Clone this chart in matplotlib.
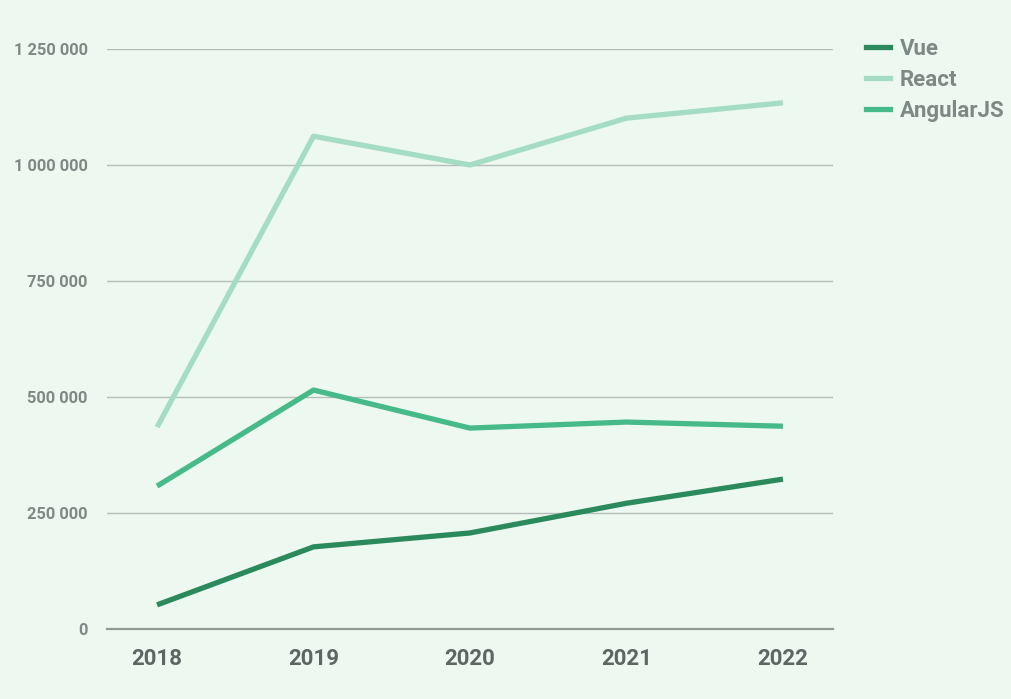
import matplotlib
matplotlib.use("Agg")
import matplotlib.pyplot as plt
from matplotlib.lines import Line2D

years = ["2018", "2019", "2020", "2021", "2022"]
vue = [52000, 177000, 207000, 271000, 323000]
react = [435000, 1062000, 1000000, 1101000, 1134000]
angular = [308000, 515000, 433000, 446000, 437000]
yticks = [0, 250000, 500000, 750000, 1000000, 1250000]
ytick_labels = ["0", "250 000", "500 000", "750 000", "1 000 000", "1 250 000"]

bg = "#edf8f1"
c_vue = "#2b8a5b"
c_react = "#a4dcc4"
c_ang = "#46ba88"

plt.rcParams['font.family'] = ['Roboto', 'DejaVu Sans']
fig = plt.figure(figsize=(10.11, 6.99), dpi=100, facecolor=bg)
ax = fig.add_axes([107/1011, 70/699, 726/1011, 580/699], facecolor=bg)

x = list(range(len(years)))
ax.plot(x, vue, color=c_vue, lw=3.8, solid_capstyle='butt', zorder=4)
ax.plot(x, react, color=c_react, lw=3.8, solid_capstyle='butt', zorder=3)
ax.plot(x, angular, color=c_ang, lw=3.8, solid_capstyle='butt', zorder=3)

ax.set_xlim(-0.32, 4.32)
ax.set_ylim(0, 1250000)
ax.set_yticks(yticks)
ax.set_yticklabels(ytick_labels)
ax.set_xticks(x)
ax.set_xticklabels(years)
ax.grid(axis='y', color='#b4bfba', lw=1)
ax.set_axisbelow(True)
for s in ['top', 'right', 'left']:
    ax.spines[s].set_visible(False)
ax.spines['bottom'].set_color('#8e9a94')
ax.spines['bottom'].set_linewidth(1.6)
ax.spines['bottom'].set_zorder(5)
ax.tick_params(axis='y', length=0, pad=14, labelsize=11.8, labelcolor='#7e8986')
ax.tick_params(axis='x', length=0, pad=14, labelsize=16, labelcolor='#5e6664')
for t in ax.get_yticklabels() + ax.get_xticklabels():
    t.set_fontweight('bold')

handles = [Line2D([0], [0], color=c, lw=3.8) for c in (c_vue, c_react, c_ang)]
leg = fig.legend(handles, ["Vue", "React", "AngularJS"], loc='upper left',
                 bbox_to_anchor=(866/1011, 1 - 38/699), frameon=False,
                 borderaxespad=0, borderpad=0,
                 handlelength=1.08, handletextpad=0.45, labelspacing=0.4,
                 prop={'weight': 'bold', 'size': 16})
for t in leg.get_texts():
    t.set_color('#7e8986')

fig.savefig("out.png", dpi=100, facecolor=bg)
